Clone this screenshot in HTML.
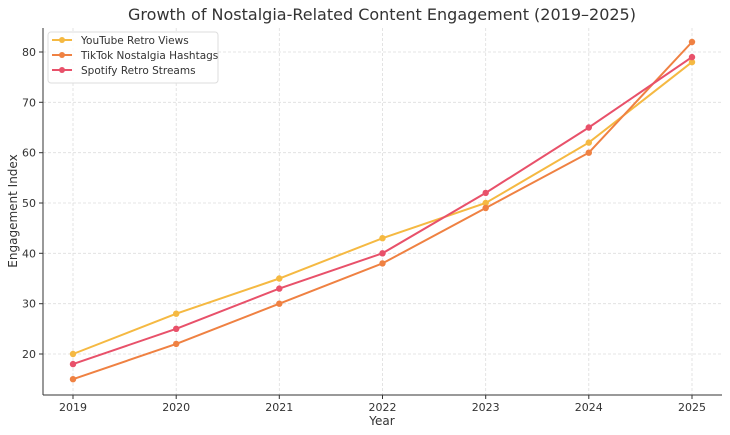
<!DOCTYPE html>
<html><head><meta charset="utf-8"><style>body{margin:0;background:#fff}svg{display:block;font-family:"DejaVu Sans","Liberation Sans",sans-serif}</style></head>
<body>
<svg width="730" height="435" viewBox="0 0 730 435">
<text x="382" y="20" font-size="16" text-anchor="middle" fill="#333">Growth of Nostalgia-Related Content Engagement (2019–2025)</text>
<g stroke="#ddd" stroke-width="0.8" stroke-dasharray="3,2">
<line x1="73" y1="28" x2="73" y2="395"/><line x1="176.2" y1="28" x2="176.2" y2="395"/><line x1="279.3" y1="28" x2="279.3" y2="395"/><line x1="382.5" y1="28" x2="382.5" y2="395"/><line x1="485.7" y1="28" x2="485.7" y2="395"/><line x1="588.8" y1="28" x2="588.8" y2="395"/><line x1="692" y1="28" x2="692" y2="395"/>
<line x1="43" y1="354" x2="722" y2="354"/><line x1="43" y1="303.7" x2="722" y2="303.7"/><line x1="43" y1="253.3" x2="722" y2="253.3"/><line x1="43" y1="203" x2="722" y2="203"/><line x1="43" y1="152.7" x2="722" y2="152.7"/><line x1="43" y1="102.3" x2="722" y2="102.3"/><line x1="43" y1="52" x2="722" y2="52"/>
</g>
<g stroke="#333" stroke-width="1"><line x1="43" y1="28" x2="43" y2="395"/><line x1="43" y1="395" x2="722" y2="395"/>
<line x1="73" y1="395" x2="73" y2="399"/><line x1="176.2" y1="395" x2="176.2" y2="399"/><line x1="279.3" y1="395" x2="279.3" y2="399"/><line x1="382.5" y1="395" x2="382.5" y2="399"/><line x1="485.7" y1="395" x2="485.7" y2="399"/><line x1="588.8" y1="395" x2="588.8" y2="399"/><line x1="692" y1="395" x2="692" y2="399"/>
<line x1="39" y1="354" x2="43" y2="354"/><line x1="39" y1="303.7" x2="43" y2="303.7"/><line x1="39" y1="253.3" x2="43" y2="253.3"/><line x1="39" y1="203" x2="43" y2="203"/><line x1="39" y1="152.7" x2="43" y2="152.7"/><line x1="39" y1="102.3" x2="43" y2="102.3"/><line x1="39" y1="52" x2="43" y2="52"/></g>
<g font-size="11" fill="#333" text-anchor="middle">
<text x="73" y="411">2019</text><text x="176.2" y="411">2020</text><text x="279.3" y="411">2021</text><text x="382.5" y="411">2022</text><text x="485.7" y="411">2023</text><text x="588.8" y="411">2024</text><text x="692" y="411">2025</text>
<text x="382" y="425" font-size="12">Year</text></g>
<g font-size="11" fill="#333" text-anchor="end">
<text x="36" y="358">20</text><text x="36" y="307.7">30</text><text x="36" y="257.3">40</text><text x="36" y="207">50</text><text x="36" y="156.7">60</text><text x="36" y="106.3">70</text><text x="36" y="56">80</text></g>
<text transform="translate(17,211) rotate(-90)" font-size="12" fill="#333" text-anchor="middle">Engagement Index</text>
<g fill="none" stroke-width="2">
<polyline stroke="#f5b942" points="73,354 176.2,313.7 279.3,278.5 382.5,238.2 485.7,203 588.8,142.6 692,62.1"/>
<polyline stroke="#ef8142" points="73,379.2 176.2,343.9 279.3,303.7 382.5,263.4 485.7,208 588.8,152.7 692,42"/>
<polyline stroke="#e8516a" points="73,364.1 176.2,328.8 279.3,288.6 382.5,253.3 485.7,192.9 588.8,127.5 692,57.1"/>
</g>
<g fill="#f5b942"><circle cx="73" cy="354" r="3.2"/><circle cx="176.2" cy="313.7" r="3.2"/><circle cx="279.3" cy="278.5" r="3.2"/><circle cx="382.5" cy="238.2" r="3.2"/><circle cx="485.7" cy="203" r="3.2"/><circle cx="588.8" cy="142.6" r="3.2"/><circle cx="692" cy="62.1" r="3.2"/></g>
<g fill="#ef8142"><circle cx="73" cy="379.2" r="3.2"/><circle cx="176.2" cy="343.9" r="3.2"/><circle cx="279.3" cy="303.7" r="3.2"/><circle cx="382.5" cy="263.4" r="3.2"/><circle cx="485.7" cy="208" r="3.2"/><circle cx="588.8" cy="152.7" r="3.2"/><circle cx="692" cy="42" r="3.2"/></g>
<g fill="#e8516a"><circle cx="73" cy="364.1" r="3.2"/><circle cx="176.2" cy="328.8" r="3.2"/><circle cx="279.3" cy="288.6" r="3.2"/><circle cx="382.5" cy="253.3" r="3.2"/><circle cx="485.7" cy="192.9" r="3.2"/><circle cx="588.8" cy="127.5" r="3.2"/><circle cx="692" cy="57.1" r="3.2"/></g>
<rect x="48" y="32" width="170" height="51" rx="3" fill="#fff" fill-opacity="0.85" stroke="#ddd"/>
<g stroke-width="2"><line x1="52" y1="40" x2="72" y2="40" stroke="#f5b942"/><line x1="52" y1="55" x2="72" y2="55" stroke="#ef8142"/><line x1="52" y1="70" x2="72" y2="70" stroke="#e8516a"/></g>
<circle cx="62" cy="40" r="3" fill="#f5b942"/><circle cx="62" cy="55" r="3" fill="#ef8142"/><circle cx="62" cy="70" r="3" fill="#e8516a"/>
<g font-size="10.5" fill="#333"><text x="81" y="44">YouTube Retro Views</text><text x="81" y="59">TikTok Nostalgia Hashtags</text><text x="81" y="74">Spotify Retro Streams</text></g>
</svg>
</body></html>
